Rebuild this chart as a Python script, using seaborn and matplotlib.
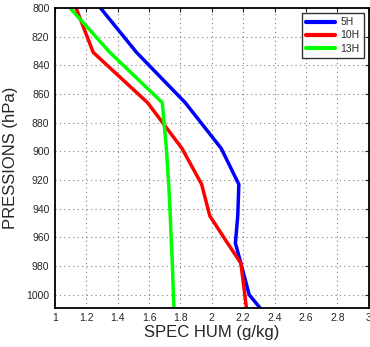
import matplotlib
matplotlib.use("Agg")
import matplotlib.pyplot as plt
import seaborn as sns
import pandas as pd
import numpy as np

pressure = [800, 831, 866, 898, 923, 945, 964, 978, 1000, 1009]
hum_5h = [1.29, 1.52, 1.83, 2.06, 2.172, 2.165, 2.15, 2.185, 2.238, 2.306]
hum_10h = [1.134, 1.244, 1.59, 1.81, 1.935, 1.987, 2.10, 2.185, 2.21, 2.22]
hum_13h = [1.096, 1.35, 1.684, 1.71, 1.725, 1.735, 1.742, 1.748, 1.755, 1.758]
series_names = ["5H", "10H", "13H"]
colors = ["#0000ff", "#ff0000", "#00ff00"]

x_ticks = [1, 1.2, 1.4, 1.6, 1.8, 2, 2.2, 2.4, 2.6, 2.8, 3]
x_tick_labels = ["1", "1.2", "1.4", "1.6", "1.8", "2", "2.2", "2.4", "2.6", "2.8", "3"]
y_ticks = [800, 820, 840, 860, 880, 900, 920, 940, 960, 980, 1000]

rows = []
for name, vals in zip(series_names, [hum_5h, hum_10h, hum_13h]):
    for i, (p, v) in enumerate(zip(pressure, vals)):
        rows.append({"series": name, "p": p, "q": v, "order": i})
df = pd.DataFrame(rows)

sns.set_style("white")
plt.rcParams["font.family"] = ["Liberation Sans", "DejaVu Sans"]

fig = plt.figure(figsize=(3.7, 3.47), dpi=100)
ax = fig.add_axes([0.1486, 0.1133, 0.848, 0.8637])

sns.lineplot(data=df, x="q", y="p", hue="series", hue_order=series_names,
             palette=colors, sort=False, estimator=None, lw=2.5, ax=ax)

ax.set_xlim(1, 3)
ax.set_ylim(1009, 800)
ax.set_xticks(x_ticks)
ax.set_xticklabels(x_tick_labels)
ax.set_yticks(y_ticks)
ax.tick_params(direction="in", top=True, right=True, labelsize=7.5, length=3, width=0.8, pad=4)
ax.grid(True, linestyle=(0, (1, 3)), color="#808080", linewidth=0.8)
for s in ax.spines.values():
    s.set_color("black")
    s.set_linewidth(1.3)
ax.set_xlabel("SPEC HUM (g/kg)", fontsize=12, labelpad=1)
ax.set_ylabel("PRESSIONS (hPa)", fontsize=12, labelpad=6)

leg = ax.legend(loc="upper right", fontsize=7.5, frameon=True, fancybox=False,
                edgecolor="black", handlelength=2.8, borderpad=0.4,
                labelspacing=0.3, handletextpad=0.5, borderaxespad=0.5)
leg.get_frame().set_linewidth(1.0)
for line in leg.get_lines():
    line.set_linewidth(3)

fig.savefig("out.png", dpi=100)
